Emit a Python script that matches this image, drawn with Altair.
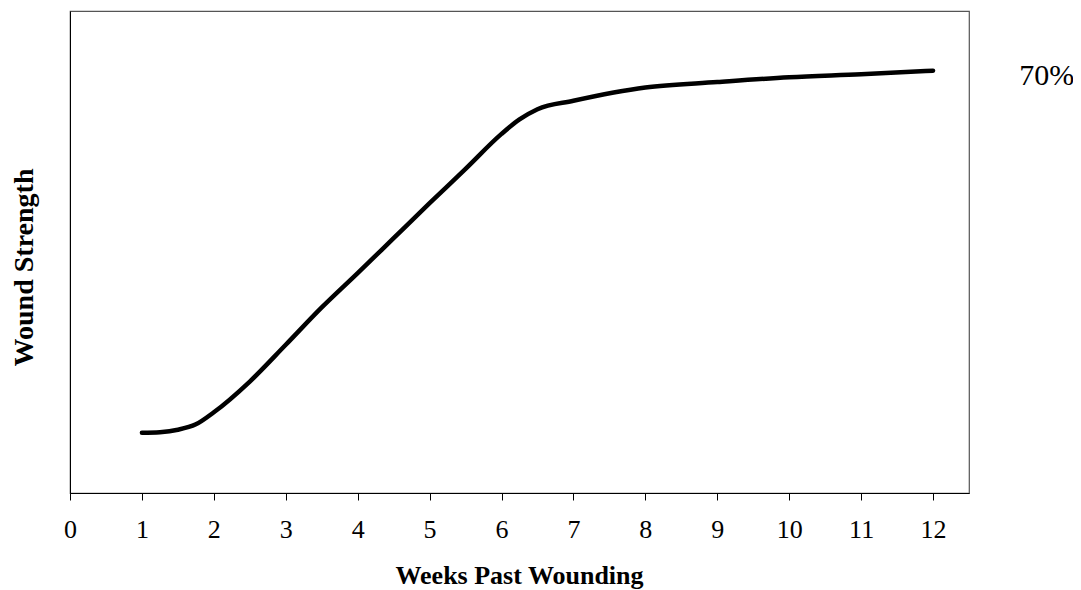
import altair as alt
import pandas as pd

weeks = [1, 1.25, 1.5, 1.75, 2, 2.5, 3, 3.5, 4, 4.5, 5, 5.5, 6, 6.25, 6.5, 7, 8, 9, 10, 11, 12]
strength = [10.0, 10.1, 10.5, 11.4, 13.4, 18.5, 24.6, 30.8, 36.5, 42.3, 48.1, 53.8, 59.6, 62.0, 63.7, 65.1, 67.3, 68.2, 69.0, 69.5, 70.1]

label_text = ["70%"]
label_x = [13.2]
label_y = [70]

df = pd.DataFrame({"week": weeks, "strength": strength})
lab = pd.DataFrame({"t": label_text, "x": label_x, "y": label_y})

FONT = "Liberation Serif"

xscale = alt.Scale(domain=[0, 12.5], nice=False, zero=False)
yscale = alt.Scale(domain=[0, 80], nice=False)

line = alt.Chart(df).mark_line(
    color="black", strokeWidth=4.5, strokeCap="round", strokeJoin="round",
    interpolate="monotone"
).encode(
    x=alt.X("week:Q", scale=xscale,
            axis=alt.Axis(title="Weeks Past Wounding", values=list(range(0, 13)),
                          format="d", grid=False, tickSize=7, tickColor="black",
                          domainColor="black", labelFont=FONT, labelFontSize=26,
                          labelColor="black", labelPadding=16, labelFlush=False,
                          labelOverlap=False,
                          titleFont=FONT, titleFontSize=26, titleFontWeight="bold",
                          titleColor="black", titleX=449, titleY=90,
                          titleBaseline="alphabetic", titleAlign="center")),
    y=alt.Y("strength:Q", scale=yscale,
            axis=alt.Axis(title="Wound Strength", labels=False, ticks=False, grid=False,
                          domainColor="black", titleFont=FONT, titleFontSize=28,
                          titleFontWeight="bold", titleColor="black", titleAngle=-90,
                          titleX=-38, titleY=256, titleAlign="center",
                          titleBaseline="alphabetic")),
)

text = alt.Chart(lab).mark_text(
    font=FONT, fontSize=30, color="black", align="left", baseline="alphabetic",
    dy=14, clip=False
).encode(
    x=alt.X("x:Q", scale=xscale),
    y=alt.Y("y:Q", scale=yscale),
    text="t:N",
)

chart = alt.layer(line, text).properties(
    width=899, height=482,
    autosize=alt.AutoSizeParams(type="none"),
    padding={"left": 62, "top": 3, "right": 104, "bottom": 96},
).configure_view(stroke="#555555", strokeWidth=1.2)

chart.save("out.html", embed_options={"renderer": "svg", "actions": False})
